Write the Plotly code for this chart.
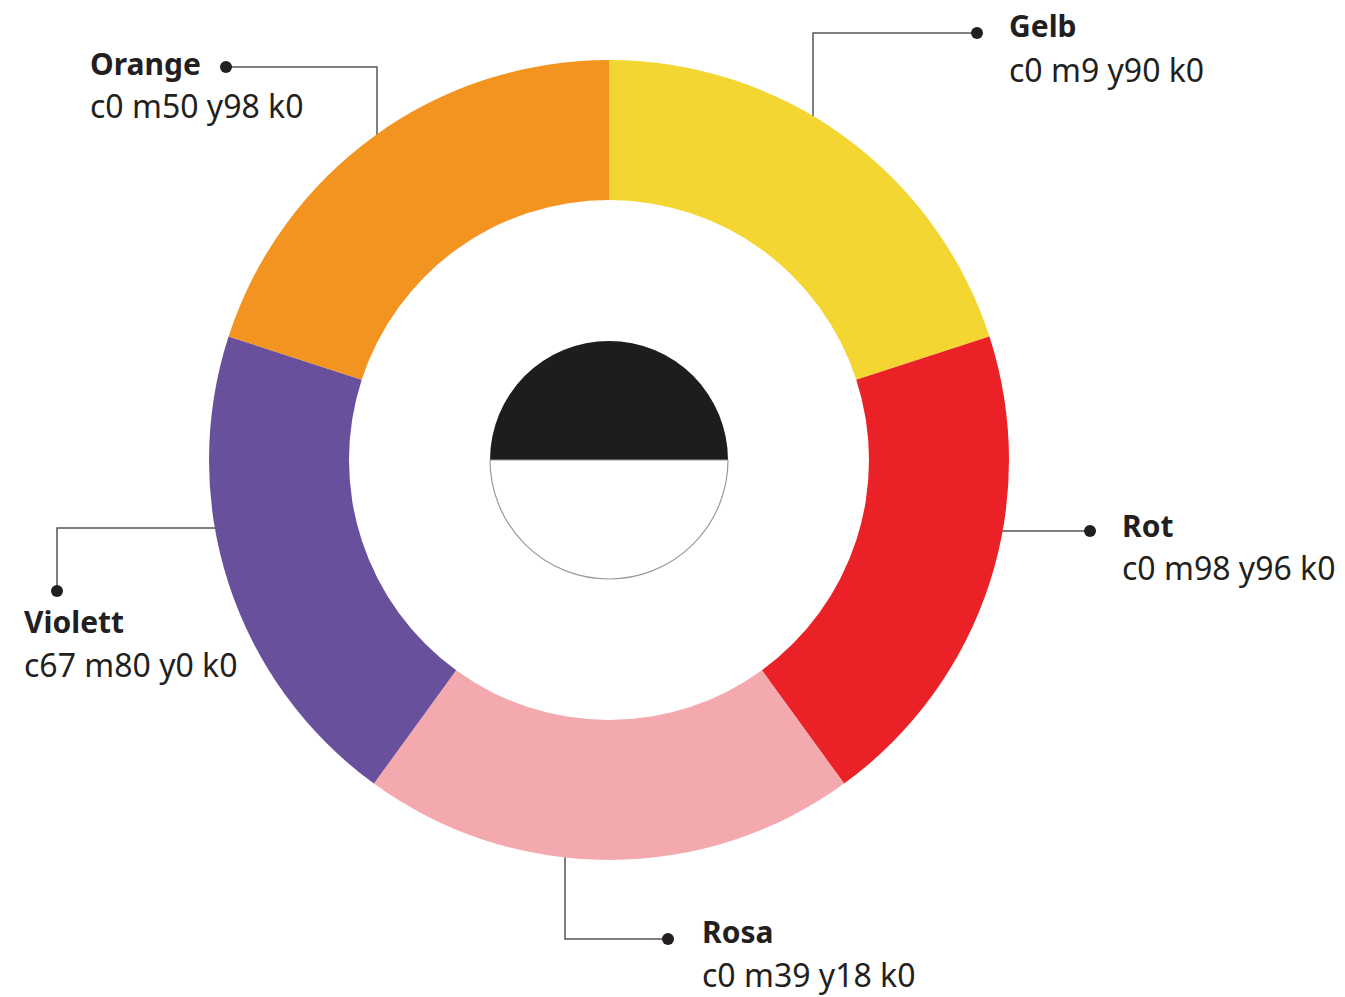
import plotly.graph_objects as go

# Data
categories = ["Gelb", "Rot", "Rosa", "Violett", "Orange"]
codes = ["c0 m9 y90 k0", "c0 m98 y96 k0", "c0 m39 y18 k0", "c67 m80 y0 k0", "c0 m50 y98 k0"]
values = [1, 1, 1, 1, 1]
colors = ["#F3D631", "#EA2126", "#F4A9AF", "#69509C", "#F39320"]

center_values = [1, 1]
center_colors = ["#1E1D1E", "#FFFFFF"]

W, H = 1345, 997
cx, cy, R, r_center = 609, 460, 400, 119
FONT = "Noto Sans"
FS_TITLE = 30
FS_CODE = 32
TXT = "#231F20"
LINE = "#555555"


def dom(c, rad, total, flip=False):
    if flip:
        c = total - c
    return [(c - rad) / total, (c + rad) / total]


fig = go.Figure()

fig.add_trace(go.Pie(
    labels=categories, values=values, sort=False, direction="clockwise", rotation=0,
    hole=0.65, marker=dict(colors=colors, line=dict(width=0)),
    textinfo="none", hoverinfo="label", showlegend=False,
    domain=dict(x=dom(cx, R, W), y=dom(cy, R, H, flip=True)),
))

fig.add_trace(go.Pie(
    labels=["schwarz", "weiß"], values=center_values, sort=False, direction="clockwise",
    rotation=-90,
    marker=dict(colors=center_colors, line=dict(color=["#1E1D1E", "#9A9A9A"], width=[0, 1.2])),
    textinfo="none", hoverinfo="skip", showlegend=False,
    domain=dict(x=dom(cx, r_center, W), y=dom(cy, r_center, H, flip=True)),
))

# Leader lines (pixel coordinates on an invisible overlay axis)
leaders = {
    "Orange": [(226, 67), (377, 67), (377, 150)],
    "Gelb": [(977, 33), (813, 33), (813, 130)],
    "Violett": [(57, 591), (57, 528), (230, 528)],
    "Rot": [(1090, 531), (990, 531)],
    "Rosa": [(668, 939), (565, 939), (565, 840)],
}
# label positions: (left x, title baseline, code baseline)
label_pos = {
    "Orange": (88, 75, 118),
    "Gelb": (1007, 37, 82),
    "Violett": (22, 633, 677),
    "Rot": (1120, 537, 580),
    "Rosa": (700, 943, 987),
}

shapes = []
dot_x, dot_y = [], []
for name, pts in leaders.items():
    path = "M " + " L ".join(f"{x},{y}" for x, y in pts)
    shapes.append(dict(type="path", path=path, xref="x", yref="y", layer="below",
                       line=dict(color=LINE, width=1.5)))
    dot_x.append(pts[0][0])
    dot_y.append(pts[0][1])

fig.add_trace(go.Scatter(x=dot_x, y=dot_y, mode="markers",
                         marker=dict(size=12, color="#231F20"),
                         hoverinfo="skip", showlegend=False))

annotations = []
for name, code in zip(categories, codes):
    lx, b1, b2 = label_pos[name]
    annotations.append(dict(x=lx, y=b1 - 12, xref="x", yref="y", xanchor="left", yanchor="middle",
                            text=f"<b>{name}</b>", showarrow=False,
                            font=dict(family=FONT, size=FS_TITLE, color=TXT)))
    annotations.append(dict(x=lx, y=b2 - 13, xref="x", yref="y", xanchor="left", yanchor="middle",
                            text=code, showarrow=False,
                            font=dict(family=FONT, size=FS_CODE, color=TXT)))

fig.update_layout(
    width=W, height=H, margin=dict(l=0, r=0, t=0, b=0),
    paper_bgcolor="white", plot_bgcolor="rgba(0,0,0,0)",
    xaxis=dict(range=[0, W], visible=False, fixedrange=True),
    yaxis=dict(range=[H, 0], visible=False, fixedrange=True),
    shapes=shapes, annotations=annotations,
)

fig.write_html(
    "out.html",
    config={"displayModeBar": False},
    post_script="document.body.style.margin='0';document.body.style.overflow='hidden';",
)
